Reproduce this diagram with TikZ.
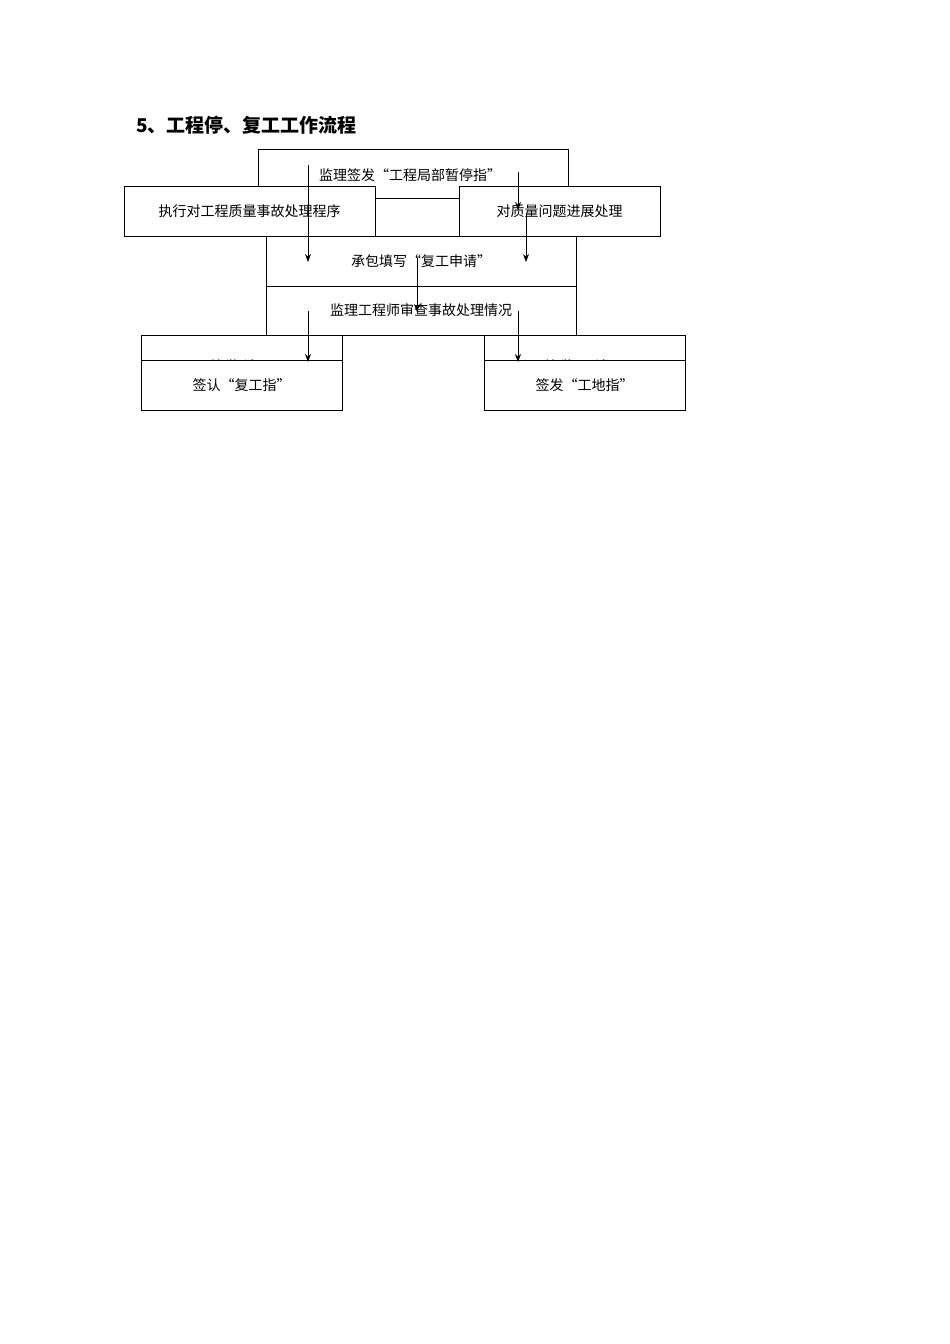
\documentclass[tikz,border=0pt]{standalone}
\usepackage{fontspec}
\usetikzlibrary{arrows.meta}
\setmainfont{Noto Sans CJK SC}
\begin{document}
\begin{tikzpicture}[x=1pt,y=-1pt,
  bx/.style={draw,fill=white,line width=0.9pt,inner sep=0pt,font=\fontsize{14}{16}\selectfont},
  arr/.style={-{Stealth[length=8pt,width=6pt]},line width=0.9pt},
  lbl/.style={inner sep=0pt,font=\fontsize{14}{16}\selectfont}]
\useasboundingbox (0,0) rectangle (950,1344);
\node[anchor=west,inner sep=0pt,font=\fontsize{19}{22}\selectfont\bfseries] (title) at (136,125) {5、工程停、复工工作流程};
\node[bx,minimum width=310pt,minimum height=49pt] (a) at (413,173.5) {};
\node[lbl] (at) at (410,175) {监理签发“工程局部暂停指”};
\node[bx,minimum width=251pt,minimum height=50pt] (b) at (249.5,211) {执行对工程质量事故处理程序};
\node[bx,minimum width=201pt,minimum height=50pt] (c) at (559.5,211) {对质量问题进展处理};
\node[bx,minimum width=310pt,minimum height=50pt] (d) at (421,261) {承包填写“复工申请”};
\node[bx,minimum width=310pt,minimum height=49pt] (e) at (421,310.5) {监理工程师审查事故处理情况};
\node[bx,minimum width=201pt,minimum height=50pt] (f) at (241.5,360) {};
\node[lbl] (ft) at (241.5,366) {总\ 监\ 认\ 可};
\node[bx,minimum width=201pt,minimum height=50pt] (h) at (584.5,360) {};
\node[lbl] (ht) at (584.5,366) {总\ 监\ 不\ 认\ 可};
\node[bx,minimum width=201pt,minimum height=50pt] (g) at (241.5,385) {签认“复工指”};
\node[bx,minimum width=201pt,minimum height=50pt] (i) at (584.5,385) {签发“工地指”};
\coordinate (p1) at (308,165); \coordinate (q1) at (308,262);
\coordinate (p2) at (518,172); \coordinate (q2) at (518,210);
\coordinate (p3) at (526,213); \coordinate (q3) at (526,262);
\coordinate (p4) at (417,258); \coordinate (q4) at (417,312);
\coordinate (p5) at (308,311); \coordinate (q5) at (308,362);
\coordinate (p6) at (518,311); \coordinate (q6) at (518,362);
\draw[arr] (p1) -- (q1);
\draw[arr] (p2) -- (q2);
\draw[arr] (p3) -- (q3);
\draw[arr] (p4) -- (q4);
\draw[arr] (p5) -- (q5);
\draw[arr] (p6) -- (q6);
\end{tikzpicture}
\end{document}
